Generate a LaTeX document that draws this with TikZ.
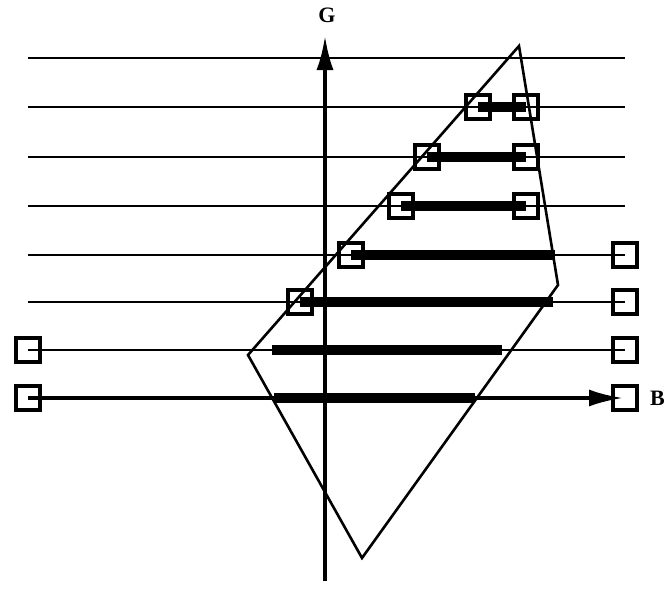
\documentclass[tikz,border=0pt]{standalone}
\usepackage{fontspec}
\setmainfont{Liberation Serif}
\usetikzlibrary{arrows.meta}
\begin{document}
\begin{tikzpicture}[x=1pt,y=-1pt,
  thin line/.style={line width=2.6pt},
  axis line/.style={line width=3.6pt},
  bar/.style={line width=10pt},
  sq/.style={draw,line width=3.4pt,minimum size=24pt,inner sep=0pt},
  lbl/.style={font=\bfseries\fontsize{22}{22}\selectfont,inner sep=0pt}]
\useasboundingbox (0,0) rectangle (666,592);
% horizontal lines (thin)
\foreach \y/\n in {58/1,107/2,157/3,206/4}{
  \coordinate (L\n) at (28,\y); \coordinate (R\n) at (625,\y);
  \draw[thin line] (L\n) -- (R\n);}
\foreach \y/\n in {255/5,302/6}{
  \coordinate (L\n) at (28,\y);}
% squares
\node[sq] (a2) at (478,107) {}; \node[sq] (b2) at (526,107) {};
\node[sq] (a3) at (427,157) {}; \node[sq] (b3) at (526,157) {};
\node[sq] (a4) at (401,206) {}; \node[sq] (b4) at (526,206) {};
\node[sq] (a5) at (351,255) {}; \node[sq] (b5) at (625,255) {};
\node[sq] (a6) at (300,302) {}; \node[sq] (b6) at (625,302) {};
\node[sq] (a7) at (28,350) {};  \node[sq] (b7) at (625,350) {};
\node[sq] (a8) at (28,398) {};  \node[sq] (b8) at (625,398) {};
\draw[thin line] (L5) -- (b5.center);
\draw[thin line] (L6) -- (b6.center);
\draw[thin line] (a7.center) -- (b7.center);
% thick bars
\draw[bar] (a2.center) -- (b2.center);
\draw[bar] (a3.center) -- (b3.center);
\draw[bar] (a4.center) -- (b4.center);
\coordinate (e5) at (555,255); \draw[bar] (a5.center) -- (e5);
\coordinate (e6) at (553,302); \draw[bar] (a6.center) -- (e6);
\coordinate (s7) at (272,350); \coordinate (e7) at (502,350); \draw[bar] (s7) -- (e7);
\coordinate (s8) at (274,398); \coordinate (e8) at (475,398); \draw[bar] (s8) -- (e8);
% polygon
\coordinate (pt) at (519,46); \coordinate (pr) at (558,285);
\coordinate (pb) at (362,558); \coordinate (pl) at (248,355);
\draw[line width=2.6pt,line join=miter] (pt) -- (pr) -- (pb) -- (pl) -- cycle;
% axes
\coordinate (gb) at (325,581); \coordinate (gt) at (325,36);
\draw[axis line,-{Latex[length=34pt,width=17pt]}] (gb) -- (gt);
\coordinate (bt) at (623,398);
\draw[axis line,-{Latex[length=34pt,width=17pt]}] (a8.center) -- (bt);
\node[lbl] (G) at (327,15) {G};
\node[lbl,anchor=east] (B) at (665,398) {B};
\end{tikzpicture}
\end{document}
